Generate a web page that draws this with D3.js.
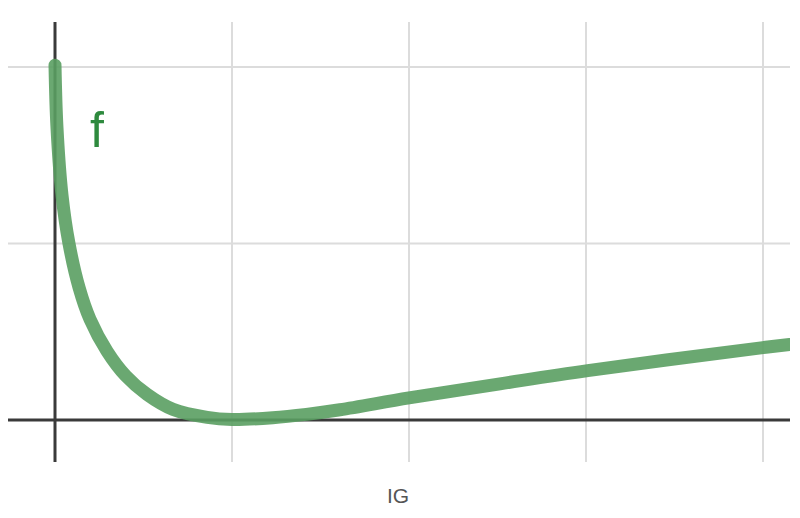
<!DOCTYPE html>
<html>
<head>
<meta charset="utf-8">
<script src="https://cdn.jsdelivr.net/npm/d3@7"></script>
<style>
  body { margin: 0; background: #fff; }
</style>
</head>
<body>
<div id="chart-area"></div>
<script>
// values (IG on x, f on y)
const igValues = [0, 0.011, 0.04, 0.079, 0.136, 0.198, 0.294, 0.40, 0.52, 0.667, 0.86, 1.0, 1.23, 1.42, 1.61, 2.0, 2.514, 3.01, 4.0, 4.15]
const fValues = [2.01, 1.66, 1.27, 1.0, 0.75, 0.57, 0.39, 0.25, 0.145, 0.06, 0.015, 0.003, 0.013, 0.032, 0.058, 0.125, 0.205, 0.28, 0.41, 0.428]
const xGrid = [1, 2, 3, 4]
const yGrid = [1, 2]
const axisLabel = "IG"
const curveLabel = "f"

const data = igValues.map((d, i) => ({ x: d, y: fValues[i] }))

const width = 800, height = 518

const svg = d3.select("#chart-area").append("svg")
    .attr("width", width)
    .attr("height", height)

// scales: one unit is about 177px both ways
const x = d3.scaleLinear().domain([0, 4]).range([55, 763])
const y = d3.scaleLinear().domain([0, 2]).range([420, 67])

const xMin = x.invert(8), xMax = x.invert(790)
const yTop = y.invert(22), yBottom = y.invert(462)

// light grid
svg.selectAll(".vgrid").data(xGrid).enter().append("line")
    .attr("x1", d => x(d)).attr("x2", d => x(d))
    .attr("y1", y(yTop)).attr("y2", y(yBottom))
    .attr("stroke", "#dcdcdc").attr("stroke-width", 2)

svg.selectAll(".hgrid").data(yGrid).enter().append("line")
    .attr("x1", x(xMin)).attr("x2", x(xMax))
    .attr("y1", d => y(d)).attr("y2", d => y(d))
    .attr("stroke", "#dcdcdc").attr("stroke-width", 2)

// axes
svg.append("line")
    .attr("x1", x(0)).attr("x2", x(0))
    .attr("y1", y(yTop)).attr("y2", y(yBottom))
    .attr("stroke", "#3a3a3a").attr("stroke-width", 3)

svg.append("line")
    .attr("x1", x(xMin)).attr("x2", x(xMax))
    .attr("y1", y(0)).attr("y2", y(0))
    .attr("stroke", "#3a3a3a").attr("stroke-width", 3)

// the curve, cut at the right edge
svg.append("clipPath").attr("id", "clip")
  .append("rect")
    .attr("x", 0).attr("y", 0)
    .attr("width", x(xMax)).attr("height", height)

const line = d3.line()
    .x(d => x(d.x))
    .y(d => y(d.y))
    .curve(d3.curveCatmullRom.alpha(0.5))

svg.append("path")
    .datum(data)
    .attr("clip-path", "url(#clip)")
    .attr("d", line)
    .attr("fill", "none")
    .attr("stroke", "#5a9f62")
    .attr("stroke-opacity", 0.9)
    .attr("stroke-width", 13)
    .attr("stroke-linecap", "round")
    .attr("stroke-linejoin", "round")

// labels
svg.append("text")
    .attr("x", 97).attr("y", 147)
    .attr("text-anchor", "middle")
    .attr("font-family", "Liberation Sans, Arial, sans-serif")
    .attr("font-size", 50)
    .attr("fill", "#2e8a3e")
    .text(curveLabel)

svg.append("text")
    .attr("x", 398).attr("y", 503)
    .attr("text-anchor", "middle")
    .attr("font-family", "Liberation Sans, Arial, sans-serif")
    .attr("font-size", 21)
    .attr("fill", "#555")
    .text(axisLabel)
</script>
</body>
</html>
